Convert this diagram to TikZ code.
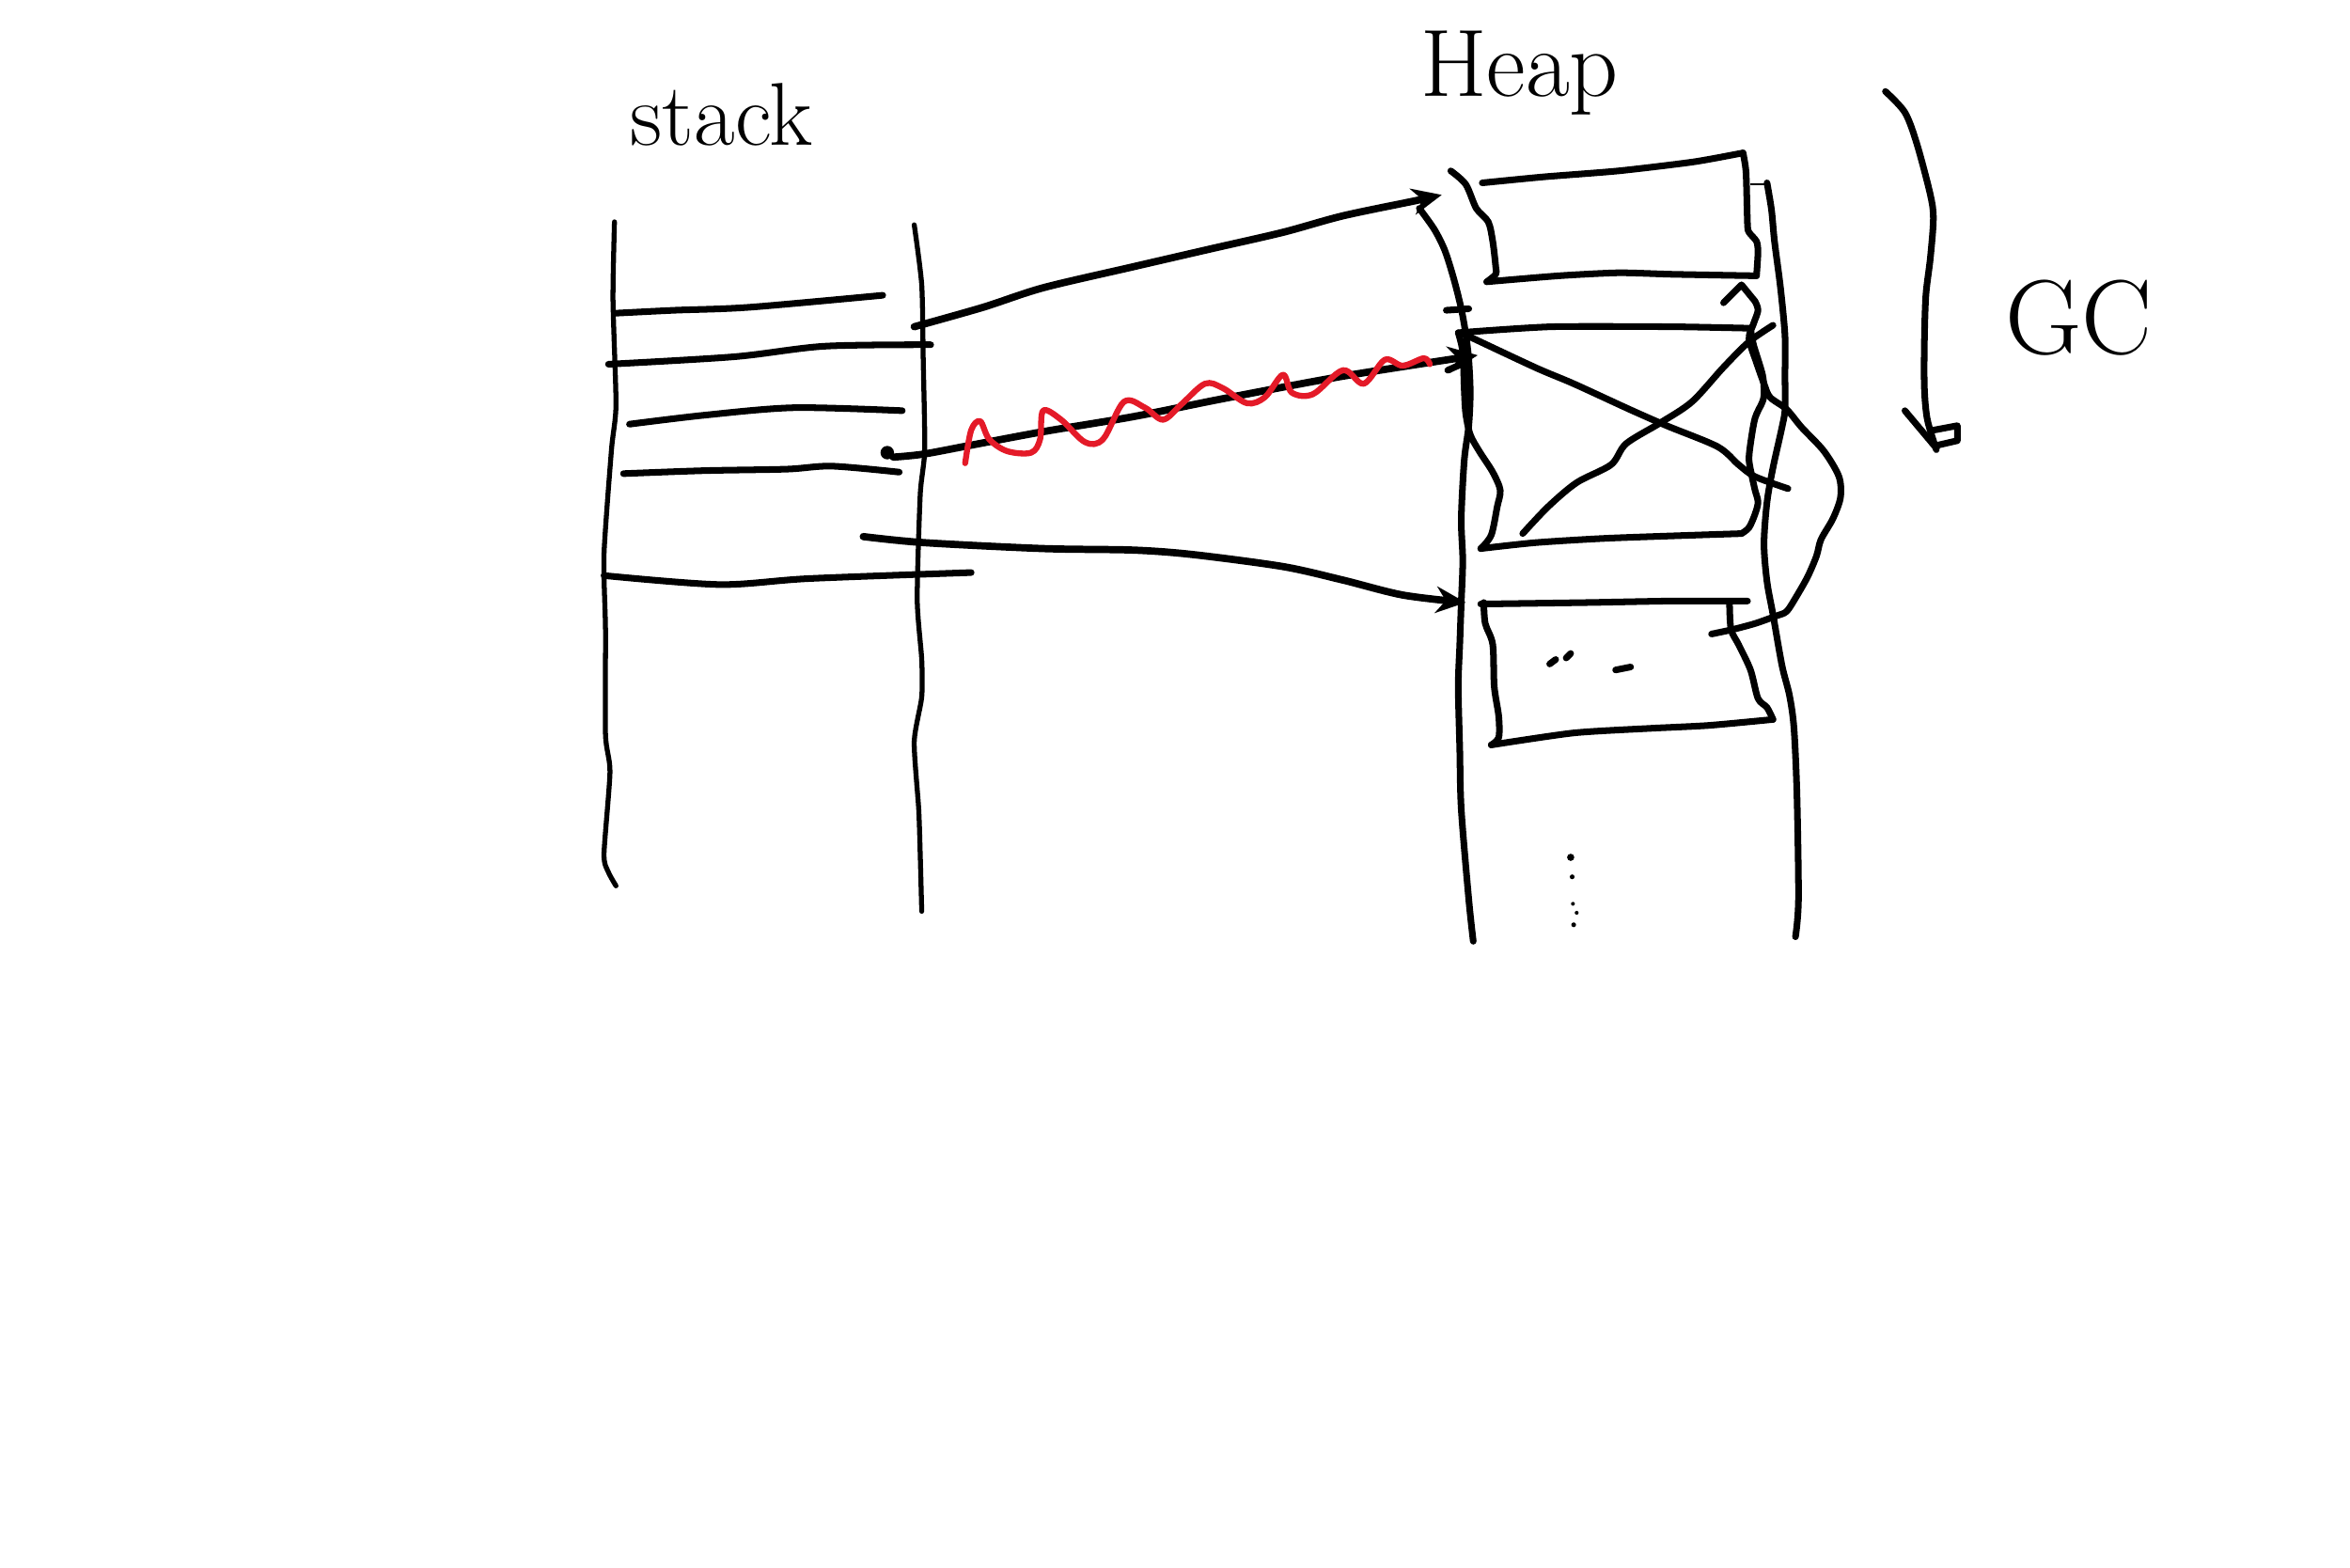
\documentclass[tikz,border=0pt]{standalone}
\usetikzlibrary{arrows.meta}
\definecolor{inkred}{RGB}{228,26,40}
\begin{document}
\begin{tikzpicture}[x=0.015944cm,y=-0.015944cm,
  ink/.style={line width=2pt,line cap=round,line join=round},
  wall/.style={line width=1.5pt,line cap=round,line join=round},
  hair/.style={line width=0.6pt},
  ptr/.style={line width=2.2pt,line cap=round,line join=round,-{Stealth[length=9pt,width=8pt]}},
  wave/.style={line width=1.8pt,inkred,line cap=round,line join=round},
  hand/.style={font=\fontsize{27}{30}\selectfont}]
\useasboundingbox (0,0) rectangle (1568,1046);

% labels
\node[hand,anchor=base west] (stacklbl) at (413,97) {stack};
\node[font=\fontsize{29}{32}\selectfont,anchor=base west] (heaplbl) at (940,64) {Heap};
\node[font=\fontsize{32}{36}\selectfont] (gclbl) at (1387,212) {GC};

% stack walls
\draw[wall] plot[smooth,tension=0.4] coordinates {(410,148) (409,200) (411,270) (408,300) (403,370) (404,420) (404,490) (407,515) (403,570) (406,582) (411,591)};
\draw[wall] plot[smooth,tension=0.4] coordinates {(610,150) (615,190) (616,240) (617,300) (614,330) (612,400) (615,440) (615,465) (610,495) (613,540) (614,570) (615,608)};

% stack frames
\draw[ink] plot[smooth,tension=0.5] coordinates {(410,209) (450,207) (500,205) (589,197)};
\draw[ink] plot[smooth,tension=0.5] coordinates {(406,243) (490,238) (550,231) (621,230)};
\draw[ink] plot[smooth,tension=0.5] coordinates {(420,283) (470,277) (530,272) (602,274)};
\draw[ink] plot[smooth,tension=0.5] coordinates {(416,316) (470,314) (525,313) (555,311) (600,315)};
\draw[ink] plot[smooth,tension=0.5] coordinates {(403,384) (480,390) (540,386) (648,382)};

% heap outer walls
\draw[ink] plot[smooth,tension=0.5] coordinates {(947,139) (957,153) (964,167) (970,186) (975,206) (978,223) (980,240) (981,262) (980,284) (977,307) (975,346) (976,374) (975,402) (974,430) (973,458) (974,500) (975,540) (980,600) (983,628)};
\draw[ink] plot[smooth,tension=0.5] coordinates {(1179,122) (1182,140) (1184,161) (1188,192) (1191,224) (1191,250) (1191,273) (1189,285) (1183,312) (1179,335) (1177,363) (1179,388) (1183,410) (1189,444) (1194,464) (1197,486) (1199,531) (1200,600) (1198,625)};
\draw[hair] (1168,123) -- (1179,123);

% top box
\draw[ink] plot[smooth,tension=0.5] coordinates {(968,114) (978,123) (985,139) (993,148) (996,161) (998,178) (998,183) (992,188)};
\draw[ink] plot[smooth,tension=0.4] coordinates {(989,122) (1030,118) (1080,114) (1130,108) (1163,102)};
\draw[ink] plot[smooth,tension=0.4] coordinates {(1163,102) (1165,115) (1166,150) (1167,155) (1172,161) (1173,168) (1172,184)};
\draw[ink] plot[smooth,tension=0.4] coordinates {(992,188) (1040,184) (1080,182) (1116,183) (1172,184)};

% X box
\draw[ink] plot[smooth,tension=0.4] coordinates {(973,222) (1035,218) (1116,218) (1168,219)};
\draw[ink] plot[smooth,tension=0.5] coordinates {(1168,219) (1170,230) (1176,250) (1177,262) (1176,268) (1171,279) (1168,296) (1167,307) (1169,318) (1171,327) (1173,335) (1171,343) (1167,352) (1162,356)};
\draw[ink] plot[smooth,tension=0.4] coordinates {(1162,356) (1075,359) (1025,362) (988,366)};
\draw[ink] plot[smooth,tension=0.5] coordinates {(973,222) (976,235) (977,260) (978,276) (981,290) (987,301) (996,315) (1001,327) (999,338) (995,357) (988,366)};
\draw[ink] plot[smooth,tension=0.5] coordinates {(975,222) (1024,245) (1050,256) (1087,273) (1112,284) (1146,298) (1160,310) (1171,318) (1193,326)};
\draw[ink] plot[smooth,tension=0.5] coordinates {(1016,356) (1033,338) (1052,322) (1075,310) (1085,296) (1108,282) (1129,268) (1150,245) (1167,228) (1183,217)};

% bottom box
\draw[ink] plot[smooth,tension=0.4] coordinates {(988,403) (1060,402) (1115,401) (1166,401)};
\draw[ink] plot[smooth,tension=0.5] coordinates {(1154,403) (1155,420) (1160,430) (1168,447) (1173,466) (1179,472) (1183,480)};
\draw[ink] plot[smooth,tension=0.4] coordinates {(1183,480) (1140,484) (1100,486) (1050,489) (995,497)};
\draw[ink] plot[smooth,tension=0.5] coordinates {(990,402) (991,416) (996,430) (997,458) (1000,478) (1000,492) (995,497)};
\draw[ink] (1034,443) -- (1038,440);
\draw[ink] (1045,439) -- (1048,436);
\draw[ink] (1078,447) -- (1088,445);

% wrap-around reference with arrow head
\draw[ink] plot[smooth,tension=0.5] coordinates {(1142,423) (1156,420) (1171,416) (1185,411) (1192,408) (1198,399) (1206,385) (1212,371) (1215,360) (1223,346) (1228,332) (1227,318) (1217,301) (1202,285) (1192,273) (1181,265) (1177,256) (1172,242) (1167,226) (1170,216) (1173,207) (1171,201)};
\draw[ink] (1171,201) -- (1162,190) -- (1150,202);

% heap bottom dots
\fill (1048,572) circle (2.4);
\fill (1049,585) circle (1.6);
\fill (1049.5,603) circle (1.3);
\fill (1052,609) circle (1.3);
\fill (1050,617) circle (1.6);

% pointers from stack into heap
\coordinate (p1s) at (610,218);
\coordinate (p1e) at (962,130);
\draw[ptr] plot[smooth,tension=0.5] coordinates {(p1s) (656,205) (696,192) (756,178) (808,166) (856,155) (896,144) (944,134) (p1e)};
\coordinate (p2s) at (596,305);
\coordinate (p2e) at (986,237);
\fill (592,302) circle (4.5);
\draw[ptr] plot[smooth,tension=0.5] coordinates {(p2s) (616,303) (648,297) (696,288) (756,278) (816,266) (896,251) (p2e)};
\draw[ink] (966,247) -- (975,243);
\draw[ink] (965,207) -- (980,206);
\coordinate (p3s) at (576,358);
\coordinate (p3e) at (978,402);
\draw[ptr] plot[smooth,tension=0.5] coordinates {(p3s) (616,362) (696,366) (756,367) (796,370) (856,378) (896,387) (936,397) (p3e)};

% red wavy line
\draw[wave] plot[smooth,tension=0.55] coordinates {(644,309) (648,287) (654,281) (660,293) (672,301) (688,302) (694,293) (696,274) (708,280) (724,295) (736,293) (750,268) (764,272) (776,280) (788,270) (804,256) (816,259) (832,269) (844,265) (856,250) (862,262) (876,263) (896,247) (910,256) (924,240) (936,244) (950,239) (954,243)};

% GC arrow
\draw[ink] plot[smooth,tension=0.5] coordinates {(1258,61) (1271,75) (1279,96) (1288,130) (1290,146) (1288,172) (1285,197) (1284,228) (1284,259) (1286,280) (1292,300)};
\draw[ink] (1271,274) -- (1292,299);
\draw[ink] (1290,287) -- (1306,284) -- (1306,294) -- (1293,297);
\end{tikzpicture}
\end{document}
